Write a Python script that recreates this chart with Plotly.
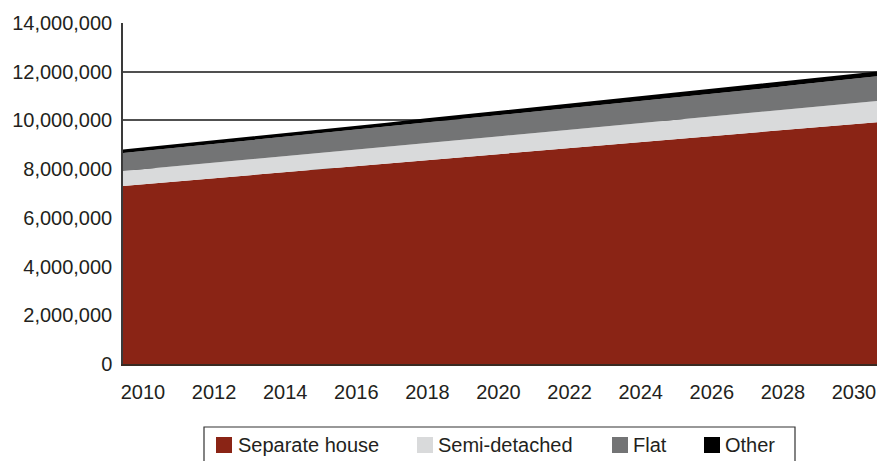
import plotly.graph_objects as go

years = list(range(2010, 2031))
separate_house = [7.31e6, 7.44e6, 7.57e6, 7.70e6, 7.83e6, 7.96e6, 8.09e6, 8.22e6, 8.35e6, 8.48e6, 8.62e6,
                  8.75e6, 8.88e6, 9.01e6, 9.14e6, 9.27e6, 9.40e6, 9.53e6, 9.67e6, 9.80e6, 9.93e6]
semi_detached = [0.61e6, 0.62e6, 0.63e6, 0.645e6, 0.66e6, 0.67e6, 0.68e6, 0.695e6, 0.71e6, 0.72e6, 0.73e6,
                 0.745e6, 0.76e6, 0.77e6, 0.78e6, 0.795e6, 0.81e6, 0.825e6, 0.84e6, 0.855e6, 0.87e6]
flat = [0.74e6, 0.755e6, 0.77e6, 0.78e6, 0.79e6, 0.80e6, 0.82e6, 0.83e6, 0.85e6, 0.86e6, 0.87e6,
        0.88e6, 0.89e6, 0.91e6, 0.92e6, 0.94e6, 0.95e6, 0.96e6, 0.98e6, 0.99e6, 1.01e6]
other = [0.10e6, 0.10e6, 0.11e6, 0.11e6, 0.11e6, 0.12e6, 0.12e6, 0.12e6, 0.12e6, 0.13e6, 0.13e6,
         0.13e6, 0.13e6, 0.14e6, 0.14e6, 0.14e6, 0.14e6, 0.15e6, 0.15e6, 0.15e6, 0.15e6]

series_names = ["Separate house", "Semi-detached", "Flat", "Other"]
series_values = [separate_house, semi_detached, flat, other]
colors = ["#8a2415", "#d9dadb", "#737475", "#000000"]

tick_years = list(range(2010, 2031, 2))
y_ticks = list(range(0, 14000001, 2000000))

# page has an 8px body margin; visible width ends at page x = 878
OFF = 8
W, H = 886 - 2 * OFF, 461 - OFF
# plot area in page pixels
L, R, T, B = 123, 877, 23, 364

fig = go.Figure()
for name, vals, col in zip(series_names, series_values, colors):
    fig.add_trace(go.Scatter(
        x=years, y=vals, name=name, mode="lines", stackgroup="one",
        fillcolor=col,
        line=dict(color="#000000", width=2.2 if name == "Other" else 0),
        showlegend=False, hoverinfo="x+y+name",
    ))

# x tick label positions (labels are slightly compressed relative to the area span)
px_per_year = (R - L) / 20.0
def xpos(y):
    return 2010 + (20 + 35.55 * (y - 2010)) / px_per_year

font_family = "Liberation Sans, Arial, sans-serif"
text_color = "#231f20"

fig.update_layout(
    width=W, height=H,
    margin=dict(l=L - OFF, r=(OFF + W) - R, t=T - OFF, b=(OFF + H) - B, pad=0, autoexpand=False),
    paper_bgcolor="white", plot_bgcolor="white",
    font=dict(family=font_family, size=19, color=text_color),
    xaxis=dict(
        range=[2010, 2030], tickvals=[xpos(y) for y in tick_years],
        ticktext=[str(y) for y in tick_years], automargin=False,
        showgrid=False, zeroline=False, showline=True, linecolor="#3a2a22", linewidth=1.5,
        ticks="", ticklabelstandoff=9,
        tickfont=dict(size=20, color=text_color),
    ),
    yaxis=dict(
        range=[0, 14000000], tickvals=y_ticks, automargin=False,
        ticktext=[f"{v:,}" for v in y_ticks],
        showgrid=True, gridcolor="#505050", gridwidth=1.6,
        zeroline=False, showline=True, linecolor="#3a3a3a", linewidth=1.5,
        ticks="", ticklabelstandoff=5,
        tickfont=dict(size=20, color=text_color),
    ),
    showlegend=False,
)

# manual legend (positions in page pixels)
def px_x(p):
    return (p - L) / (R - L)

def px_y(p):
    return (B - p) / (B - T)

shapes = [dict(type="rect", xref="paper", yref="paper",
               x0=px_x(204), x1=px_x(795), y0=px_y(475), y1=px_y(427),
               line=dict(color="#333333", width=1.2), fillcolor="white", layer="above")]
annotations = []
square_x = [216, 417, 612, 704]
text_x = [236, 436, 631, 723]
for name, col, sx, tx in zip(series_names, colors, square_x, text_x):
    shapes.append(dict(type="rect", xref="paper", yref="paper",
                       x0=px_x(sx), x1=px_x(sx + 16), y0=px_y(453), y1=px_y(437),
                       line=dict(width=0), fillcolor=col, layer="above"))
    annotations.append(dict(xref="paper", yref="paper", x=px_x(tx), y=px_y(445),
                            text=name, showarrow=False, xanchor="left", yanchor="middle",
                            font=dict(size=20, color=text_color, family=font_family)))
fig.update_layout(shapes=shapes, annotations=annotations)

fig.write_html("out.html")
